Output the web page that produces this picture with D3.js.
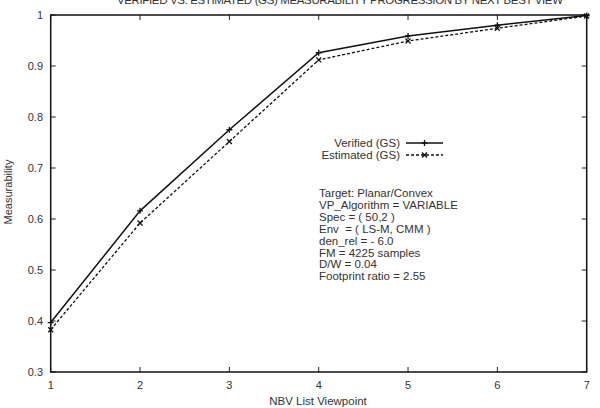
<!DOCTYPE html>
<html><head><meta charset="utf-8">
<script src="https://cdn.jsdelivr.net/npm/d3@7"></script>
<style>body{margin:0;background:#fff}svg{display:block}text{font-family:"Liberation Sans",Arial,sans-serif;fill:#333}</style>
</head><body>
<svg id="c" width="600" height="408"></svg>
<script>
const viewpoints = [1,2,3,4,5,6,7];
const verified = [0.397,0.616,0.775,0.926,0.959,0.980,0.999];
const estimated = [0.383,0.592,0.752,0.912,0.949,0.974,0.998];
const yTicks = [0.3,0.4,0.5,0.6,0.7,0.8,0.9,1];
const xTicks = [1,2,3,4,5,6,7];
const seriesNames = ["Verified (GS)","Estimated (GS)"];
const infoLines = ["Target: Planar/Convex","VP_Algorithm = VARIABLE","Spec = ( 50,2 )","Env  = ( LS-M, CMM )","den_rel = - 6.0","FM = 4225 samples","D/W = 0.04","Footprint ratio = 2.55"];
const title = "VERIFIED VS. ESTIMATED (GS) MEASURABILITY PROGRESSION BY NEXT BEST VIEW";

const svg = d3.select("#c");
const L=50.7, R=586.7, T=15, B=372;
const x = d3.scaleLinear().domain([1,7]).range([L,R]);
const y = d3.scaleLinear().domain([0.3,1]).range([B,T]);

const tl=5;
const g = svg.append("g").attr("stroke","#222").attr("stroke-width",1);
xTicks.forEach(v=>{
  g.append("line").attr("x1",x(v)).attr("x2",x(v)).attr("y1",B).attr("y2",B-tl);
  g.append("line").attr("x1",x(v)).attr("x2",x(v)).attr("y1",T).attr("y2",T+tl);
});
yTicks.forEach(v=>{
  g.append("line").attr("x1",L).attr("x2",L+tl).attr("y1",y(v)).attr("y2",y(v));
  g.append("line").attr("x1",R).attr("x2",R-tl).attr("y1",y(v)).attr("y2",y(v));
});
svg.append("rect").attr("x",L).attr("y",T).attr("width",R-L).attr("height",B-T)
  .attr("fill","none").attr("stroke","#111").attr("stroke-width",1.5);

svg.append("g").selectAll("text").data(xTicks).join("text")
  .attr("x",d=>x(d)).attr("y",389).attr("text-anchor","middle").attr("font-size",11).text(d=>d);
svg.append("g").selectAll("text").data(yTicks).join("text")
  .attr("x",43).attr("y",d=>y(d)+4).attr("text-anchor","end").attr("font-size",11).text(d=>d);

svg.append("text").attr("x",318).attr("y",405).attr("text-anchor","middle").attr("font-size",11.5).text("NBV List Viewpoint");
svg.append("text").attr("transform","translate(12,192) rotate(-90)").attr("text-anchor","middle").attr("font-size",11).text("Measurability");
svg.append("text").attr("x",340).attr("y",4).attr("text-anchor","middle").attr("font-size",11.5).attr("textLength",446).text(title);

const line = d3.line().x((d,i)=>x(viewpoints[i])).y(d=>y(d));
svg.append("path").datum(verified).attr("d",line).attr("fill","none").attr("stroke","#111").attr("stroke-width",1.5);
svg.append("path").datum(estimated).attr("d",line).attr("fill","none").attr("stroke","#111").attr("stroke-width",1.3).attr("stroke-dasharray","3,2");

function plus(sel,cx,cy){sel.append("path").attr("d",`M${cx-3},${cy}H${cx+3}M${cx},${cy-3}V${cy+3}`).attr("stroke","#111").attr("stroke-width",1.3);}
function cross(sel,cx,cy){sel.append("path").attr("d",`M${cx-2.5},${cy-2.5}L${cx+2.5},${cy+2.5}M${cx-2.5},${cy+2.5}L${cx+2.5},${cy-2.5}`).attr("stroke","#111").attr("stroke-width",1.3);}
const mk = svg.append("g");
verified.forEach((v,i)=>plus(mk,x(viewpoints[i]),y(v)));
estimated.forEach((v,i)=>cross(mk,x(viewpoints[i]),y(v)));

const ly=[143,155];
seriesNames.forEach((n,i)=>{
  svg.append("text").attr("x",400).attr("y",ly[i]+4).attr("text-anchor","end").attr("font-size",11.5).text(n);
  svg.append("line").attr("x1",406).attr("x2",443).attr("y1",ly[i]).attr("y2",ly[i]).attr("stroke","#111")
    .attr("stroke-width",i?1.3:1.5).attr("stroke-dasharray",i?"3,2":null);
  if(i===0) plus(svg,424.5,ly[i]); else cross(svg,424.5,ly[i]);
});

svg.append("g").selectAll("text").data(infoLines).join("text")
  .attr("x",319).attr("y",(d,i)=>197+i*11.9).attr("font-size",11.5).style("white-space","pre").text(d=>d);
</script>
</body></html>
